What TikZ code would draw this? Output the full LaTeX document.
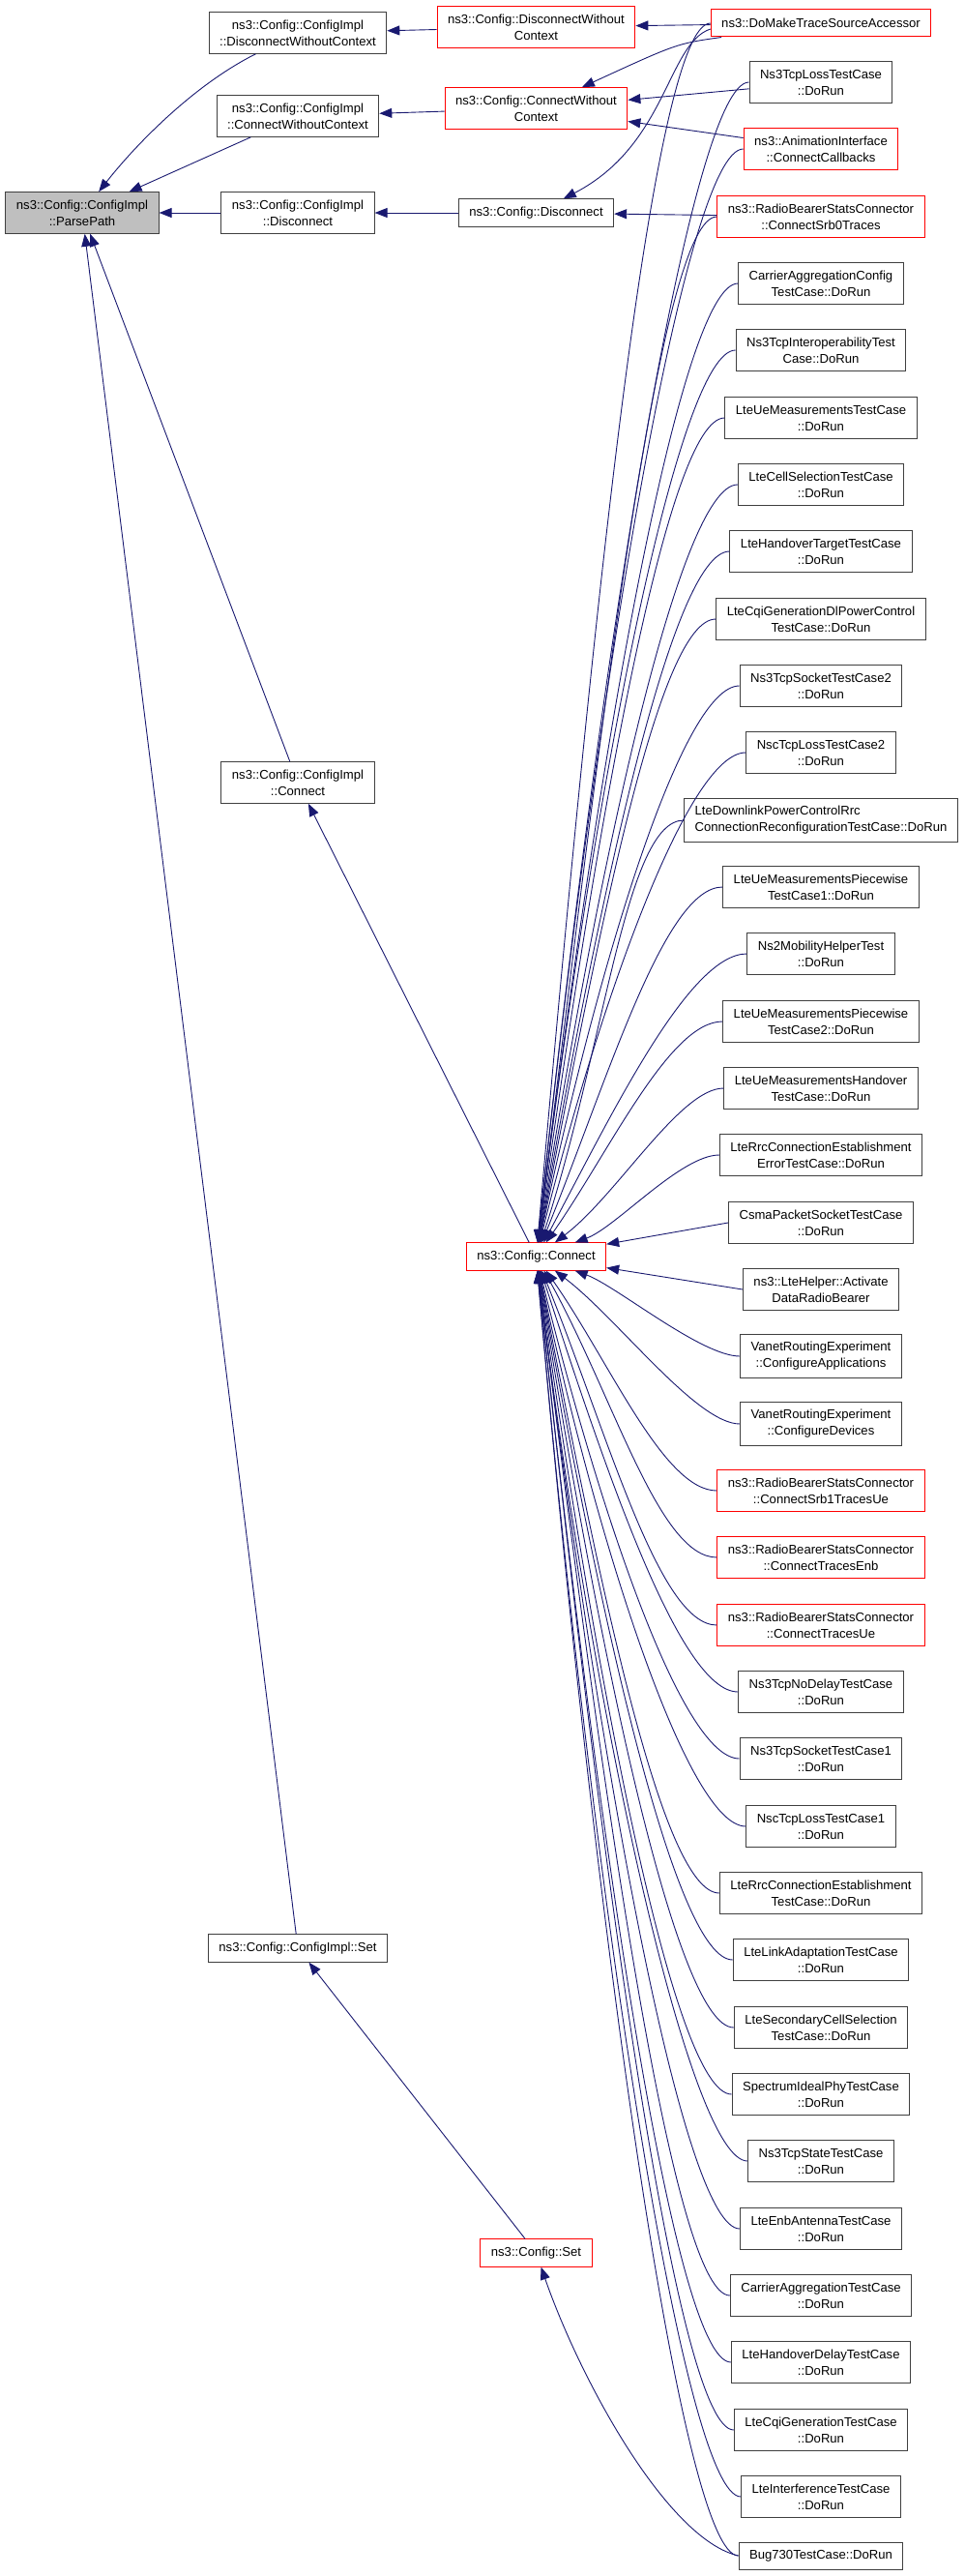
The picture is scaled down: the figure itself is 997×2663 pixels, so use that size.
\documentclass[tikz,border=0pt]{standalone}
\usepackage{fontspec}
\setmainfont{Liberation Sans}
\usetikzlibrary{arrows.meta,calc}
\definecolor{callblue}{RGB}{25,25,112}
\definecolor{selgray}{RGB}{191,191,191}
\tikzset{
  fn/.style={draw=black!75, fill=white, line width=1pt, align=center, inner xsep=11pt, inner ysep=8pt, minimum height=28pt, font=\fontsize{13.1}{17}\selectfont},
  fnred/.style={fn, draw=red},
  call/.style={draw=callblue, line width=0.9pt, -{Triangle[length=13pt,width=10pt]}}
}
\begin{document}
\begin{tikzpicture}[x=1pt,y=1pt]
\useasboundingbox (0,0) rectangle (997,-2663);

% left side
\node[fn, fill=selgray] (parse) at (85,-220) {ns3::Config::ConfigImpl\\::ParsePath};
\node[fn] (cidwc) at (308,-34) {ns3::Config::ConfigImpl\\::DisconnectWithoutContext};
\node[fn] (cicwc) at (308,-120) {ns3::Config::ConfigImpl\\::ConnectWithoutContext};
\node[fn] (cidisc) at (308,-220) {ns3::Config::ConfigImpl\\::Disconnect};
\node[fn] (ciconn) at (308,-809) {ns3::Config::ConfigImpl\\::Connect};
\node[fn] (ciset) at (308,-2014) {ns3::Config::ConfigImpl::Set};

\node[fnred] (cdwc) at (554.5,-28) {ns3::Config::DisconnectWithout\\Context};
\node[fnred] (ccwc) at (554.5,-112) {ns3::Config::ConnectWithout\\Context};
\node[fn] (cdisc) at (554.5,-220) {ns3::Config::Disconnect};
\node[fnred] (cconn) at (554.5,-1299) {ns3::Config::Connect};
\node[fnred] (cset) at (554.5,-2329) {ns3::Config::Set};

% callers
\node[fnred] (dmtsa) at (849,-24) {ns3::DoMakeTraceSourceAccessor};
\node[fn] (tcploss) at (849,-85) {Ns3TcpLossTestCase\\::DoRun};
\node[fnred] (anim) at (849,-154) {ns3::AnimationInterface\\::ConnectCallbacks};
\node[fnred] (srb0) at (849,-224) {ns3::RadioBearerStatsConnector\\::ConnectSrb0Traces};
\node[fn] (caconf) at (849,-293) {CarrierAggregationConfig\\TestCase::DoRun};
\node[fn] (tcpinter) at (849,-362) {Ns3TcpInteroperabilityTest\\Case::DoRun};
\node[fn] (uemeas) at (849,-432) {LteUeMeasurementsTestCase\\::DoRun};
\node[fn] (cellsel) at (849,-501) {LteCellSelectionTestCase\\::DoRun};
\node[fn] (hotarget) at (849,-570) {LteHandoverTargetTestCase\\::DoRun};
\node[fn] (cqidl) at (849,-640) {LteCqiGenerationDlPowerControl\\TestCase::DoRun};
\node[fn] (tcpsock2) at (849,-709) {Ns3TcpSocketTestCase2\\::DoRun};
\node[fn] (nscloss2) at (849,-778) {NscTcpLossTestCase2\\::DoRun};
\node[fn, align=left] (dlpc) at (849,-848) {LteDownlinkPowerControlRrc\\ConnectionReconfigurationTestCase::DoRun};
\node[fn] (uepw1) at (849,-917) {LteUeMeasurementsPiecewise\\TestCase1::DoRun};
\node[fn] (ns2mob) at (849,-986) {Ns2MobilityHelperTest\\::DoRun};
\node[fn] (uepw2) at (849,-1056) {LteUeMeasurementsPiecewise\\TestCase2::DoRun};
\node[fn] (ueho) at (849,-1125) {LteUeMeasurementsHandover\\TestCase::DoRun};
\node[fn] (rrcerr) at (849,-1194) {LteRrcConnectionEstablishment\\ErrorTestCase::DoRun};
\node[fn] (csma) at (849,-1264) {CsmaPacketSocketTestCase\\::DoRun};
\node[fn] (ltehelp) at (849,-1333) {ns3::LteHelper::Activate\\DataRadioBearer};
\node[fn] (vanetapp) at (849,-1402) {VanetRoutingExperiment\\::ConfigureApplications};
\node[fn] (vanetdev) at (849,-1472) {VanetRoutingExperiment\\::ConfigureDevices};
\node[fnred] (srb1) at (849,-1541) {ns3::RadioBearerStatsConnector\\::ConnectSrb1TracesUe};
\node[fnred] (tenb) at (849,-1610) {ns3::RadioBearerStatsConnector\\::ConnectTracesEnb};
\node[fnred] (tue) at (849,-1680) {ns3::RadioBearerStatsConnector\\::ConnectTracesUe};
\node[fn] (nodelay) at (849,-1749) {Ns3TcpNoDelayTestCase\\::DoRun};
\node[fn] (tcpsock1) at (849,-1818) {Ns3TcpSocketTestCase1\\::DoRun};
\node[fn] (nscloss1) at (849,-1888) {NscTcpLossTestCase1\\::DoRun};
\node[fn] (rrcest) at (849,-1957) {LteRrcConnectionEstablishment\\TestCase::DoRun};
\node[fn] (linkad) at (849,-2026) {LteLinkAdaptationTestCase\\::DoRun};
\node[fn] (scellsel) at (849,-2096) {LteSecondaryCellSelection\\TestCase::DoRun};
\node[fn] (specphy) at (849,-2165) {SpectrumIdealPhyTestCase\\::DoRun};
\node[fn] (tcpstate) at (849,-2234) {Ns3TcpStateTestCase\\::DoRun};
\node[fn] (enbant) at (849,-2304) {LteEnbAntennaTestCase\\::DoRun};
\node[fn] (catest) at (849,-2373) {CarrierAggregationTestCase\\::DoRun};
\node[fn] (hodelay) at (849,-2442) {LteHandoverDelayTestCase\\::DoRun};
\node[fn] (cqigen) at (849,-2512) {LteCqiGenerationTestCase\\::DoRun};
\node[fn] (interf) at (849,-2581) {LteInterferenceTestCase\\::DoRun};
\node[fn] (bug730) at (849,-2642) {Bug730TestCase::DoRun};

% into ParsePath
\draw[call] (cidwc) .. controls (200,-88) and (140,-150) .. (parse);
\draw[call] (cicwc) -- (parse);
\draw[call] (cidisc) -- (parse);
\draw[call] (ciconn) -- (parse);
\draw[call] (ciset) -- (parse);

\draw[call] (cdwc) -- (cidwc);
\draw[call] (ccwc) -- (cicwc);
\draw[call] (cdisc) -- (cidisc);
\draw[call] (cconn) -- (ciconn);
\draw[call] (cset) -- (ciset);

\draw[call] (dmtsa) -- (cdwc);
\draw[call] (dmtsa) .. controls (700,-45) .. (ccwc);
\draw[call] (tcploss) -- (ccwc);
\draw[call] (anim) -- (ccwc);
\draw[call] ([yshift=-6pt]dmtsa.west) .. controls (690,-45) and (690,-150) .. (cdisc);
\draw[call] (srb0) -- (cdisc);

% into Config::Connect, from above
\draw[call] (dmtsa.west) .. controls +(-60,0) and ($(cconn.85)+(85:630)$) .. (cconn.85);
\draw[call] (tcploss.west) .. controls +(-60,0) and ($(cconn.84)+(84:600)$) .. (cconn.84);
\draw[call] (anim.west) .. controls +(-60,0) and ($(cconn.84)+(84:565)$) .. (cconn.84);
\draw[call] (srb0.west) .. controls +(-60,0) and ($(cconn.83)+(83:530)$) .. (cconn.83);
\draw[call] (caconf.west) .. controls +(-60,0) and ($(cconn.83)+(83:496)$) .. (cconn.83);
\draw[call] (tcpinter.west) .. controls +(-60,0) and ($(cconn.83)+(83:460)$) .. (cconn.83);
\draw[call] (uemeas.west) .. controls +(-60,0) and ($(cconn.82)+(82:426)$) .. (cconn.82);
\draw[call] (cellsel.west) .. controls +(-60,0) and ($(cconn.81)+(81:392)$) .. (cconn.81);
\draw[call] (hotarget.west) .. controls +(-60,0) and ($(cconn.80)+(80:357)$) .. (cconn.80);
\draw[call] (cqidl.west) .. controls +(-60,0) and ($(cconn.79)+(79:322)$) .. (cconn.79);
\draw[call] (tcpsock2.west) .. controls +(-60,0) and ($(cconn.78)+(78:288)$) .. (cconn.78);
\draw[call] (nscloss2.west) .. controls +(-60,0) and ($(cconn.76)+(76:253)$) .. (cconn.76);
\draw[call] (dlpc.west) .. controls +(-60,0) and ($(cconn.72)+(72:218)$) .. (cconn.72);
\draw[call] (uepw1.west) .. controls +(-60,0) and ($(cconn.68)+(68:184)$) .. (cconn.68);
\draw[call] (ns2mob.west) .. controls +(-60,0) and ($(cconn.62)+(62:150)$) .. (cconn.62);
\draw[call] (uepw2.west) .. controls +(-55,0) and ($(cconn.55)+(55:115)$) .. (cconn.55);
\draw[call] (ueho.west) .. controls +(-45,0) and ($(cconn.37)+(37:80)$) .. (cconn.37);
\draw[call] (rrcerr.west) .. controls +(-40,0) and ($(cconn.20)+(20:45)$) .. (cconn.20);
\draw[call] (csma.west) -- (cconn);
\draw[call] (ltehelp.west) -- (cconn);

% into Config::Connect, from below
\draw[call] (vanetapp.west) .. controls +(-40,0) and ($(cconn.-20)+(-20:45)$) .. (cconn.-20);
\draw[call] (vanetdev.west) .. controls +(-45,0) and ($(cconn.-37)+(-37:80)$) .. (cconn.-37);
\draw[call] (srb1.west) .. controls +(-55,0) and ($(cconn.-55)+(-55:115)$) .. (cconn.-55);
\draw[call] (tenb.west) .. controls +(-60,0) and ($(cconn.-61)+(-61:150)$) .. (cconn.-61);
\draw[call] (tue.west) .. controls +(-60,0) and ($(cconn.-68)+(-68:184)$) .. (cconn.-68);
\draw[call] (nodelay.west) .. controls +(-60,0) and ($(cconn.-72)+(-72:218)$) .. (cconn.-72);
\draw[call] (tcpsock1.west) .. controls +(-60,0) and ($(cconn.-76)+(-76:253)$) .. (cconn.-76);
\draw[call] (nscloss1.west) .. controls +(-60,0) and ($(cconn.-78)+(-78:288)$) .. (cconn.-78);
\draw[call] (rrcest.west) .. controls +(-60,0) and ($(cconn.-79)+(-79:322)$) .. (cconn.-79);
\draw[call] (linkad.west) .. controls +(-60,0) and ($(cconn.-80)+(-80:357)$) .. (cconn.-80);
\draw[call] (scellsel.west) .. controls +(-60,0) and ($(cconn.-81)+(-81:392)$) .. (cconn.-81);
\draw[call] (specphy.west) .. controls +(-60,0) and ($(cconn.-82)+(-82:426)$) .. (cconn.-82);
\draw[call] (tcpstate.west) .. controls +(-60,0) and ($(cconn.-83)+(-83:460)$) .. (cconn.-83);
\draw[call] (enbant.west) .. controls +(-60,0) and ($(cconn.-83)+(-83:496)$) .. (cconn.-83);
\draw[call] (catest.west) .. controls +(-60,0) and ($(cconn.-83)+(-83:530)$) .. (cconn.-83);
\draw[call] (hodelay.west) .. controls +(-60,0) and ($(cconn.-84)+(-84:565)$) .. (cconn.-84);
\draw[call] (cqigen.west) .. controls +(-60,0) and ($(cconn.-84)+(-84:600)$) .. (cconn.-84);
\draw[call] (interf.west) .. controls +(-60,0) and ($(cconn.-85)+(-85:630)$) .. (cconn.-85);
\draw[call] (bug730.west) .. controls +(-60,0) and ($(cconn.-85)+(-85:660)$) .. (cconn.-85);

\draw[call] (bug730.west) .. controls (690,-2625) and (600,-2460) .. (cset);

\end{tikzpicture}
\end{document}
